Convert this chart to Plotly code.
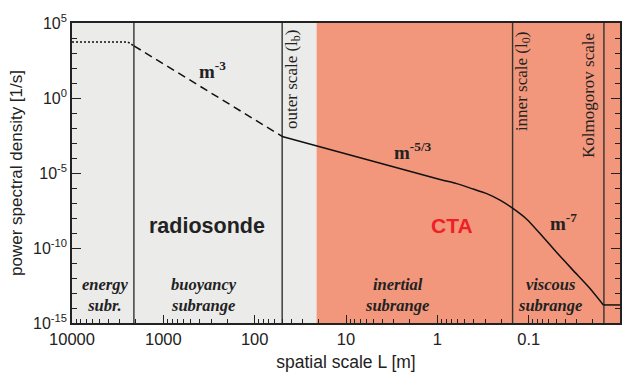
import plotly.graph_objects as go

# ---- data ----
energy_L = [10000, 2450, 2100]
energy_psd = [5.4e3, 5.4e3, 3.0e3]
buoy_L = [2100, 50]
buoy_psd = [3.0e3, 2.75e-3]
inert_L = [50, 0.935, 0.615, 0.405, 0.288, 0.206, 0.1476, 0.105, 0.0752, 0.0493, 0.0324, 0.0213, 0.0152]
inert_psd = [2.75e-3, 3.7e-6, 1.95e-6, 8.5e-7, 4.2e-7, 1.55e-7, 4.2e-8, 8.3e-9, 9.3e-10, 5.0e-11, 3.1e-12, 2.0e-13, 1.6e-14]
flat_L = [0.0152, 0.01]
flat_psd = [1.6e-14, 1.6e-14]

boundary_L = [2100, 50, 0.15, 0.015]
radiosonde_range = [10000, 21]
cta_range = [21, 0.01]

x_ticks = [10000, 1000, 100, 10, 1, 0.1, 0.01]
x_ticktext = ["10000", "1000", "100", "10", "1", "0.1", "0.01"]
y_ticks = [1e5, 1, 1e-5, 1e-10, 1e-15]
y_ticktext = ["10<sup>5</sup>", "10<sup>0</sup>", "10<sup>-5</sup>", "10<sup>-10</sup>", "10<sup>-15</sup>"]

x_minor = [m * 10 ** e for e in range(-2, 4) for m in range(2, 10)]
y_minor = [10.0 ** e for e in range(-15, 6) if e % 5 != 0]

GREY = "#ebebea"
SALMON = "#f2977b"
SERIF = "Liberation Serif"
SANS = "Liberation Sans"

fig = go.Figure()
line_col = "#111111"
fig.add_trace(go.Scatter(x=energy_L, y=energy_psd, mode="lines",
                         line=dict(color=line_col, width=1.6, dash="2px,2px"), showlegend=False))
fig.add_trace(go.Scatter(x=buoy_L, y=buoy_psd, mode="lines",
                         line=dict(color=line_col, width=1.5, dash="8px,5px"), showlegend=False))
fig.add_trace(go.Scatter(x=inert_L, y=inert_psd, mode="lines", line_shape="spline",
                         line=dict(color=line_col, width=1.5, smoothing=0.5), showlegend=False))
fig.add_trace(go.Scatter(x=flat_L, y=flat_psd, mode="lines",
                         line=dict(color=line_col, width=1.5), showlegend=False))

shapes = [
    dict(type="rect", xref="x", yref="paper", x0=radiosonde_range[0], x1=radiosonde_range[1],
         y0=0, y1=1, fillcolor=GREY, line=dict(width=0), layer="below"),
    dict(type="rect", xref="x", yref="paper", x0=cta_range[0], x1=cta_range[1],
         y0=0, y1=1, fillcolor=SALMON, line=dict(width=0), layer="below"),
]
for b in boundary_L:
    shapes.append(dict(type="line", xref="x", yref="paper", x0=b, x1=b, y0=0, y1=1,
                       line=dict(color="#333333", width=1.4), layer="below"))

def ann(text, x, y, size, family, color="#222222", angle=0):
    return dict(text=text, x=x, y=y, xref="paper", yref="paper", showarrow=False,
                font=dict(size=size, family=family, color=color), textangle=angle,
                xanchor="center", yanchor="middle")

annotations = [
    ann("<b>m<sup>-3</sup></b>", 0.257, 0.843, 19, SERIF),
    ann("<b>m<sup>-5/3</sup></b>", 0.622, 0.575, 19, SERIF),
    ann("<b>m<sup>-7</sup></b>", 0.896, 0.336, 19, SERIF),
    ann("<b>radiosonde</b>", 0.246, 0.324, 21.5, SANS, "#222222"),
    ann("<b>CTA</b>", 0.693, 0.324, 21, SANS, "#ee1f26"),
    ann("outer scale (l<sub>b</sub>)", 0.403, 0.813, 17, SERIF, angle=-90),
    ann("inner scale (l<sub>0</sub>)", 0.823, 0.803, 17, SERIF, angle=-90),
    ann("Kolmogorov scale", 0.943, 0.759, 17, SERIF, angle=-90),
    ann("<b><i>energy<br>subr.</i></b>", 0.060, 0.092, 16.5, SERIF),
    ann("<b><i>buoyancy<br>subrange</i></b>", 0.241, 0.092, 16.5, SERIF),
    ann("<b><i>inertial<br>subrange</i></b>", 0.593, 0.092, 16.5, SERIF),
    ann("<b><i>viscous<br>subrange</i></b>", 0.872, 0.092, 16.5, SERIF),
]

fig.update_layout(
    width=634, height=381,
    margin=dict(l=72, r=14, t=14, b=52),
    paper_bgcolor="white", plot_bgcolor="white",
    shapes=shapes, annotations=annotations,
    font=dict(family=SANS, size=16, color="#222222"),
)
fig.update_xaxes(
    type="log", range=[4, -2], showgrid=False, zeroline=False,
    tickvals=x_ticks, ticktext=x_ticktext, ticks="inside", ticklen=8, tickwidth=1.3,
    tickcolor="#222", showline=True, linecolor="#222", linewidth=1.6, mirror=True,
    minor=dict(tickvals=x_minor, ticks="inside", ticklen=4, tickwidth=1, tickcolor="#222"),
    tickfont=dict(size=16.5, family=SANS),
    title=dict(text="spatial scale L [m]", font=dict(size=17.5, family=SANS), standoff=9),
)
fig.update_yaxes(
    type="log", range=[-15, 5], showgrid=False, zeroline=False,
    tickvals=y_ticks, ticktext=y_ticktext, ticks="inside", ticklen=9, tickwidth=1.3,
    tickcolor="#222", showline=True, linecolor="#222", linewidth=1.6, mirror="ticks",
    minor=dict(tickvals=y_minor, ticks="inside", ticklen=5, tickwidth=1, tickcolor="#222"),
    tickfont=dict(size=16, family=SANS),
    title=dict(text="power spectral density [1/s]", font=dict(size=17, family=SANS), standoff=6),
)

fig.write_html("out.html")
